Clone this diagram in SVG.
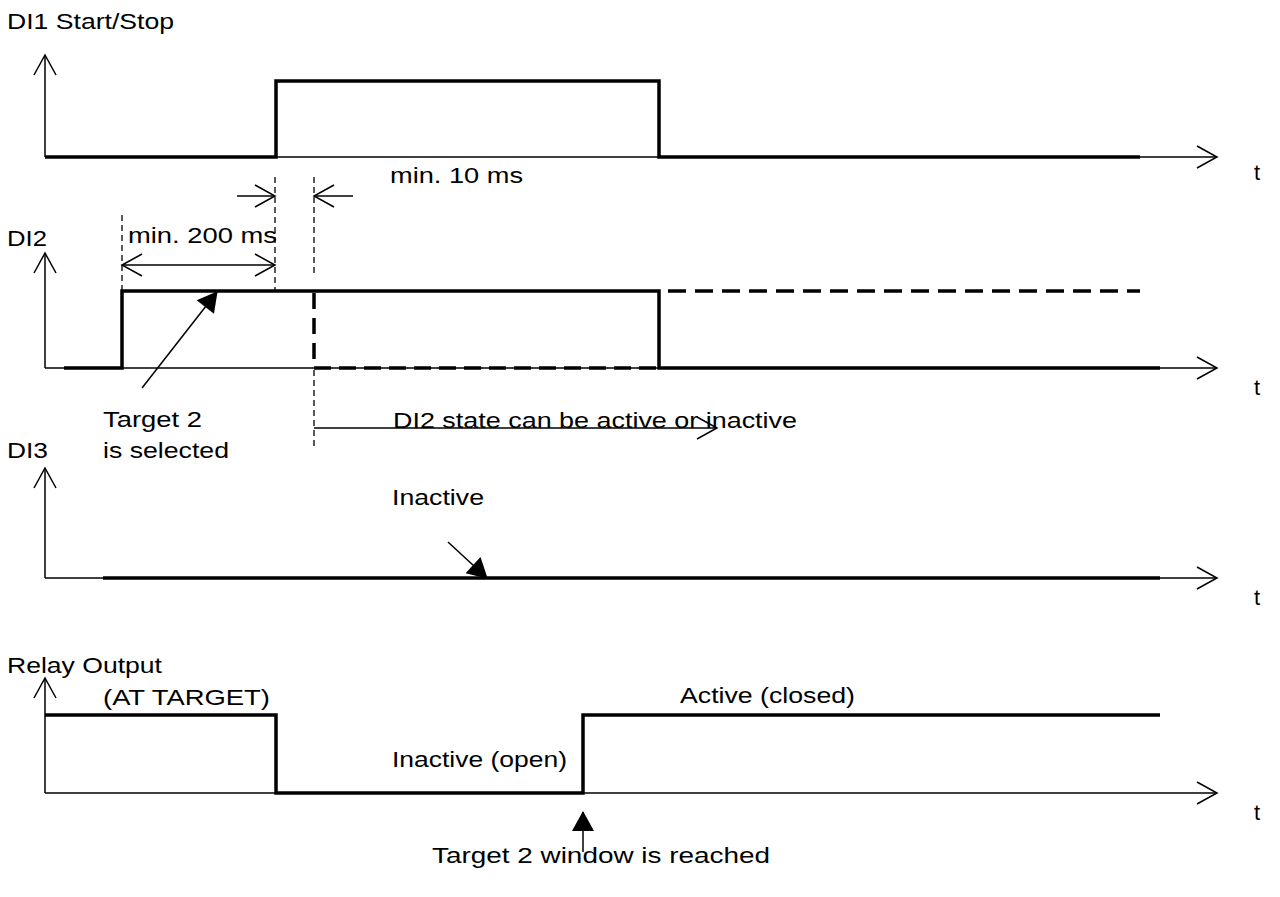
<svg xmlns="http://www.w3.org/2000/svg" width="1280" height="897" viewBox="0 0 1280 897">
  <defs>
    <style>
      text { font-family: "Liberation Sans", Arial, sans-serif; font-size: 22px; fill: #000; }
      .axis { fill: none; stroke: #000; stroke-width: 1.5; }
      .sig { fill: none; stroke: #000; stroke-width: 3.5; stroke-linejoin: miter; }
      .sigdash { fill: none; stroke: #000; stroke-width: 3.5; stroke-dasharray: 18 9; }
      .guide { fill: none; stroke: #000; stroke-width: 1.3; stroke-dasharray: 6 4; }
      .dim { fill: none; stroke: #000; stroke-width: 1.5; }
      .lead { fill: none; stroke: #000; stroke-width: 1.5; }
    </style>
    <marker id="open" viewBox="-1 -1 24 24" refX="20" refY="11" markerWidth="24" markerHeight="24" markerUnits="userSpaceOnUse" orient="auto-start-reverse" overflow="visible">
      <path d="M0,0 L20,11 L0,22" fill="none" stroke="#000" stroke-width="1.5"/>
    </marker>
    <marker id="solid" viewBox="0 0 20 22" refX="19" refY="11" markerWidth="20" markerHeight="22" markerUnits="userSpaceOnUse" orient="auto" overflow="visible">
      <path d="M0,0 L20,11 L0,22 z" fill="#000"/>
    </marker>
  </defs>
  <rect width="1280" height="897" fill="#fff"/>

  <!-- DI1 Start/Stop -->
  <g id="di1">
    <text x="7" y="29" textLength="167" lengthAdjust="spacingAndGlyphs">DI1 Start/Stop</text>
    <line class="axis" x1="45" y1="157" x2="45" y2="55" marker-end="url(#open)"/>
    <line class="axis" x1="45" y1="157" x2="1217" y2="157" marker-end="url(#open)"/>
    <polyline class="sig" points="45,157 276,157 276,81 659,81 659,157 1140,157"/>
    <text x="1254" y="180">t</text>
  </g>

  <!-- DI2 -->
  <g id="di2">
    <text x="7" y="246" textLength="40" lengthAdjust="spacingAndGlyphs">DI2</text>
    <line class="axis" x1="45" y1="368" x2="45" y2="253" marker-end="url(#open)"/>
    <line class="axis" x1="45" y1="368" x2="1217" y2="368" marker-end="url(#open)"/>
    <polyline class="sig" points="64,368 122,368 122,291 659,291 659,368 1160,368"/>
    <line class="sigdash" x1="668" y1="291" x2="1140" y2="291"/>
    <line class="sigdash" x1="314" y1="293" x2="314" y2="368" style="stroke-dasharray:16 9"/>
    <line class="sigdash" x1="314" y1="368" x2="659" y2="368" style="stroke-dasharray:17 8"/>
    <text x="1254" y="395">t</text>
  </g>

  <!-- DI3 -->
  <g id="di3">
    <text x="7" y="458" textLength="41" lengthAdjust="spacingAndGlyphs">DI3</text>
    <line class="axis" x1="45" y1="578" x2="45" y2="468" marker-end="url(#open)"/>
    <line class="axis" x1="45" y1="578" x2="1217" y2="578" marker-end="url(#open)"/>
    <line class="sig" x1="103" y1="578" x2="1160" y2="578"/>
    <text x="1254" y="605">t</text>
  </g>

  <!-- Relay Output (AT TARGET) -->
  <g id="relay">
    <text x="7" y="673" textLength="155" lengthAdjust="spacingAndGlyphs">Relay Output</text>
    <text x="103" y="705" textLength="167" lengthAdjust="spacingAndGlyphs">(AT TARGET)</text>
    <line class="axis" x1="45" y1="793" x2="45" y2="678" marker-end="url(#open)"/>
    <line class="axis" x1="45" y1="793" x2="1217" y2="793" marker-end="url(#open)"/>
    <polyline class="sig" points="45,715 276,715 276,793 583,793 583,715 1160,715"/>
    <text x="680" y="703" textLength="175" lengthAdjust="spacingAndGlyphs">Active (closed)</text>
    <text x="392" y="767" textLength="175" lengthAdjust="spacingAndGlyphs">Inactive (open)</text>
    <text x="1254" y="820">t</text>
  </g>

  <!-- Timing guides, dimensions and callouts -->
  <g id="connectors">
    <line class="guide" x1="275" y1="177" x2="275" y2="291"/>
    <line class="guide" x1="314" y1="177" x2="314" y2="275"/>
    <line class="guide" x1="314" y1="370" x2="314" y2="447"/>
    <line class="guide" x1="122" y1="215" x2="122" y2="291"/>

    <line class="dim" x1="237" y1="196" x2="275" y2="196" marker-end="url(#open)"/>
    <line class="dim" x1="353" y1="196" x2="314" y2="196" marker-end="url(#open)"/>
    <line class="dim" x1="122" y1="265" x2="275" y2="265" marker-start="url(#open)" marker-end="url(#open)"/>
    <line class="dim" x1="314" y1="428" x2="717" y2="428" marker-end="url(#open)"/>

    <line class="lead" x1="142" y1="388" x2="217" y2="292" marker-end="url(#solid)"/>
    <line class="lead" x1="448" y1="542" x2="487" y2="578" marker-end="url(#solid)"/>
    <line class="lead" x1="583" y1="852" x2="583" y2="812" marker-end="url(#solid)"/>
  </g>

  <!-- Labels -->
  <g id="labels">
    <text x="390" y="183" textLength="133" lengthAdjust="spacingAndGlyphs">min. 10 ms</text>
    <text x="128" y="243" textLength="149" lengthAdjust="spacingAndGlyphs">min. 200 ms</text>
    <text x="103" y="427" textLength="99" lengthAdjust="spacingAndGlyphs">Target 2</text>
    <text x="103" y="458" textLength="126" lengthAdjust="spacingAndGlyphs">is selected</text>
    <text x="393" y="428" textLength="404" lengthAdjust="spacingAndGlyphs">DI2 state can be active or inactive</text>
    <text x="392" y="505" textLength="92" lengthAdjust="spacingAndGlyphs">Inactive</text>
    <text x="432" y="863" textLength="338" lengthAdjust="spacingAndGlyphs">Target 2 window is reached</text>
  </g>
</svg>
